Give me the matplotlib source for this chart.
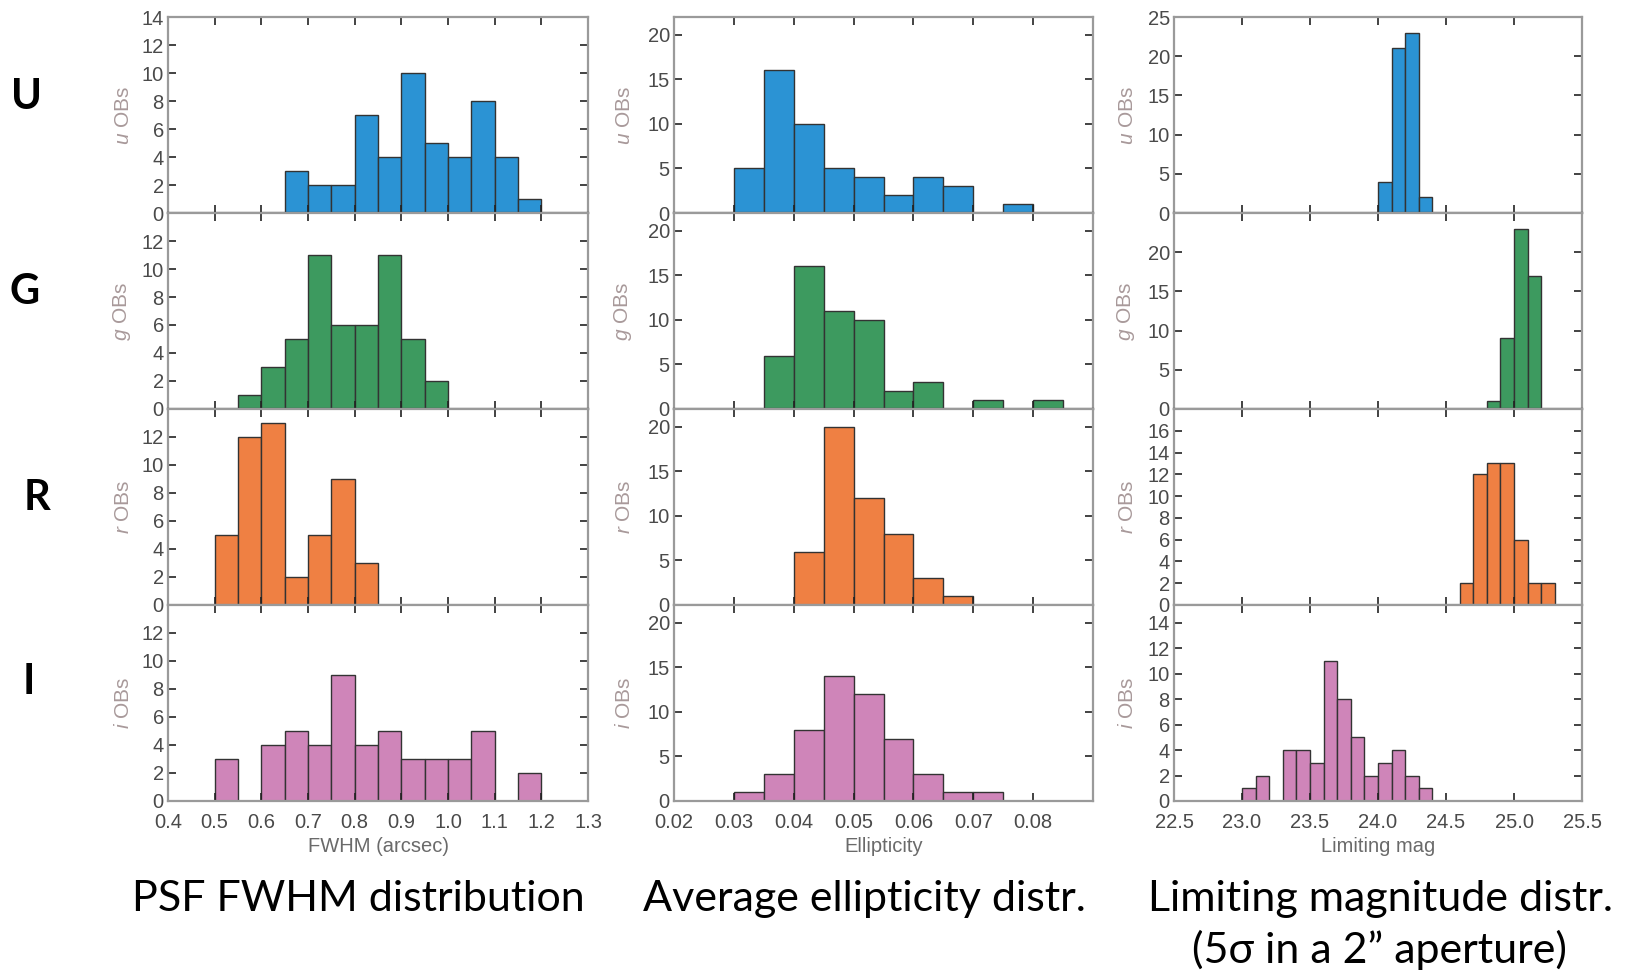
import numpy as np
import matplotlib
matplotlib.use("Agg")
import matplotlib.pyplot as plt

plt.rcParams['font.family'] = ['Liberation Sans', 'DejaVu Sans']
plt.rcParams['mathtext.fontset'] = 'custom'
plt.rcParams['mathtext.it'] = 'Liberation Sans:italic'
plt.rcParams['mathtext.rm'] = 'Liberation Sans'

bands = ["u", "g", "r", "i"]
band_names = ["U", "G", "R", "I"]
colors = ["#2b93d4", "#3d9a5f", "#ef8043", "#cf85b9"]

# FWHM (arcsec), bins of 0.05
fwhm_start = [0.65, 0.55, 0.50, 0.50]
fwhm_u = [3, 2, 2, 7, 4, 10, 5, 4, 8, 4, 1]
fwhm_g = [1, 3, 5, 11, 6, 6, 11, 5, 2]
fwhm_r = [5, 12, 13, 2, 5, 9, 3, 0]
fwhm_i = [3, 0, 4, 5, 4, 9, 4, 5, 3, 3, 3, 5, 0, 2, 0]

# ellipticity, bins of 0.005
ell_start = [0.030, 0.035, 0.040, 0.025]
ell_u = [5, 16, 10, 5, 4, 2, 4, 3, 0, 1]
ell_g = [6, 16, 11, 10, 2, 3, 0, 1, 0, 1]
ell_r = [6, 20, 12, 8, 3, 1]
ell_i = [0, 1, 3, 8, 14, 12, 7, 3, 1, 1, 0, 0]

# limiting mag, bins of 0.1
mag_start = [24.0, 22.9, 22.9, 22.9]
mag_u = [4, 21, 23, 2]
mag_g = [0, 0, 0, 0, 0, 0, 0, 0, 0, 0, 0, 0, 0, 0, 0, 0, 0, 0, 0, 1, 9, 23, 17]
mag_r = [0, 0, 0, 0, 0, 0, 0, 0, 0, 0, 0, 0, 0, 0, 0, 0, 0, 2, 12, 13, 13, 6, 2, 2, 0, 0]
mag_i = [0, 1, 2, 0, 4, 4, 3, 11, 8, 5, 2, 3, 4, 2, 1]

columns = [
    dict(counts=[fwhm_u, fwhm_g, fwhm_r, fwhm_i], start=fwhm_start, w=0.05,
         xlim=(0.4, 1.3), xticks=np.arange(0.4, 1.31, 0.1), fmt="{:.1f}",
         xlabel="FWHM (arcsec)",
         ylims=[14, 14, 14, 14],
         yticks=[range(0, 15, 2), range(0, 13, 2), range(0, 13, 2), range(0, 13, 2)],
         px=(168, 588), lab=35),
    dict(counts=[ell_u, ell_g, ell_r, ell_i], start=ell_start, w=0.005,
         xlim=(0.02, 0.09), xticks=np.arange(0.02, 0.0801, 0.01), fmt="{:.2f}",
         xlabel="Ellipticity",
         ylims=[22, 22, 22, 22],
         yticks=[range(0, 21, 5)] * 4,
         px=(674, 1093), lab=40),
    dict(counts=[mag_u, mag_g, mag_r, mag_i], start=mag_start, w=0.1,
         xlim=(22.5, 25.5), xticks=np.arange(22.5, 25.51, 0.5), fmt="{:.1f}",
         xlabel="Limiting mag",
         ylims=[25, 25, 18, 15.4],
         yticks=[range(0, 26, 5), range(0, 21, 5), range(0, 17, 2), range(0, 15, 2)],
         px=(1174, 1582), lab=37),
]

W, H = 1637, 976
fig = plt.figure(figsize=(W / 100, H / 100), dpi=100)

row_top = [17, 213, 409, 605]
row_h = 196
grey = "#9a9a9a"

for c, col in enumerate(columns):
    x0, x1 = col["px"]
    for r in range(4):
        ax = fig.add_axes([x0 / W, 1 - (row_top[r] + row_h) / H, (x1 - x0) / W, row_h / H])
        vals = np.array(col["counts"][r])
        lefts = col["start"][r] + col["w"] * np.arange(len(vals))
        ax.bar(lefts, vals, width=col["w"], align="edge", color=colors[r],
               edgecolor="#333333", linewidth=1.0)
        ax.set_xlim(*col["xlim"])
        ax.set_ylim(0, col["ylims"][r])
        ax.set_xticks(col["xticks"])
        ax.set_yticks(list(col["yticks"][r]))
        ax.tick_params(direction="in", top=True, right=True, labelsize=14.5,
                       labelcolor="#4a4a4a", color="#222222", length=6, width=1.2)
        ax.tick_params(axis="y", pad=3)
        ax.tick_params(axis="x", pad=9)
        for s in ["left", "right", "top"]:
            ax.spines[s].set_color(grey)
            ax.spines[s].set_linewidth(1.6)
        ax.spines["bottom"].set_color("#222222" if r < 2 else grey)
        ax.spines["bottom"].set_linewidth(1.6)
        if r == 3:
            ax.set_xticklabels([col["fmt"].format(v) for v in col["xticks"]])
            ax.set_xlabel(col["xlabel"], fontsize=14.5, color="#6a6a6a")
            ax.xaxis.set_label_coords(0.5, -0.185)
        else:
            ax.set_xticklabels([])
        ax.set_ylabel(r"$\it{%s}$ OBs" % bands[r], fontsize=15, color="#a8999a")
        ax.yaxis.set_label_coords(-col["lab"] / (x1 - x0), 0.5)

# row letters
for name, (x, y) in zip(band_names, [(26, 97), (25, 292), (37, 498), (29, 682)]):
    fig.text(x / W, 1 - y / H, name, fontsize=30, fontweight="bold",
             family=["Lato", "DejaVu Sans"], ha="center", va="center")

cap = dict(fontsize=31, family=["Lato", "DejaVu Sans"], ha="center", va="baseline")
fig.text(358 / W, 1 - 911 / H, "PSF FWHM distribution", **cap)
fig.text(864 / W, 1 - 911 / H, "Average ellipticity distr.", **cap)
fig.text(1380 / W, 1 - 911 / H, "Limiting magnitude distr.", **cap)
fig.text(1379 / W, 1 - 963 / H, "(5σ in a 2\u201d aperture)", **cap)

fig.savefig("out.png", dpi=100)
